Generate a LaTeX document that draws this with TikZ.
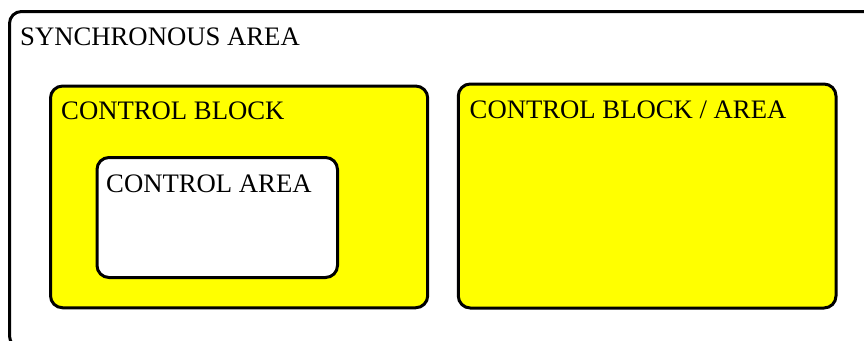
\documentclass[tikz,border=0pt]{standalone}
\usepackage{fontspec}
\setmainfont{Liberation Serif}
\definecolor{boxyellow}{RGB}{255,255,0}
\begin{document}
\begin{tikzpicture}[x=1pt,y=-1pt,
  boxshape/.style={draw=black, line width=3pt, rounded corners=12pt, inner sep=0pt, minimum width=#1},
  lbl/.style={anchor=base west, inner sep=0pt, font=\fontsize{26.7}{30}\selectfont}]
\useasboundingbox (0,0) rectangle (864,340);
\clip (0,0) rectangle (864,340);
\fill[white] (0,0) rectangle (864,340);
\node[boxshape=865.5pt, minimum height=336.5pt, fill=white] (sync) at (442.25,179.75) {};
\node[boxshape=377.2pt, minimum height=221.7pt, fill=boxyellow] (cb) at (239.1,196.9) {};
\node[boxshape=240.5pt, minimum height=120pt, fill=white] (ca) at (217.25,217.5) {};
\node[boxshape=377.7pt, minimum height=224pt, fill=boxyellow] (cba) at (647.15,196) {};
\node[lbl] (tsync) at (20,45) {SYNCHRONOUS AREA};
\node[lbl] (tcb) at (61,119.3) {CONTROL BLOCK};
\node[lbl] (tca) at (106,192.5) {CONTROL AREA};
\node[lbl] (tcba) at (469.5,118.3) {CONTROL BLOCK / AREA};
\end{tikzpicture}
\end{document}
